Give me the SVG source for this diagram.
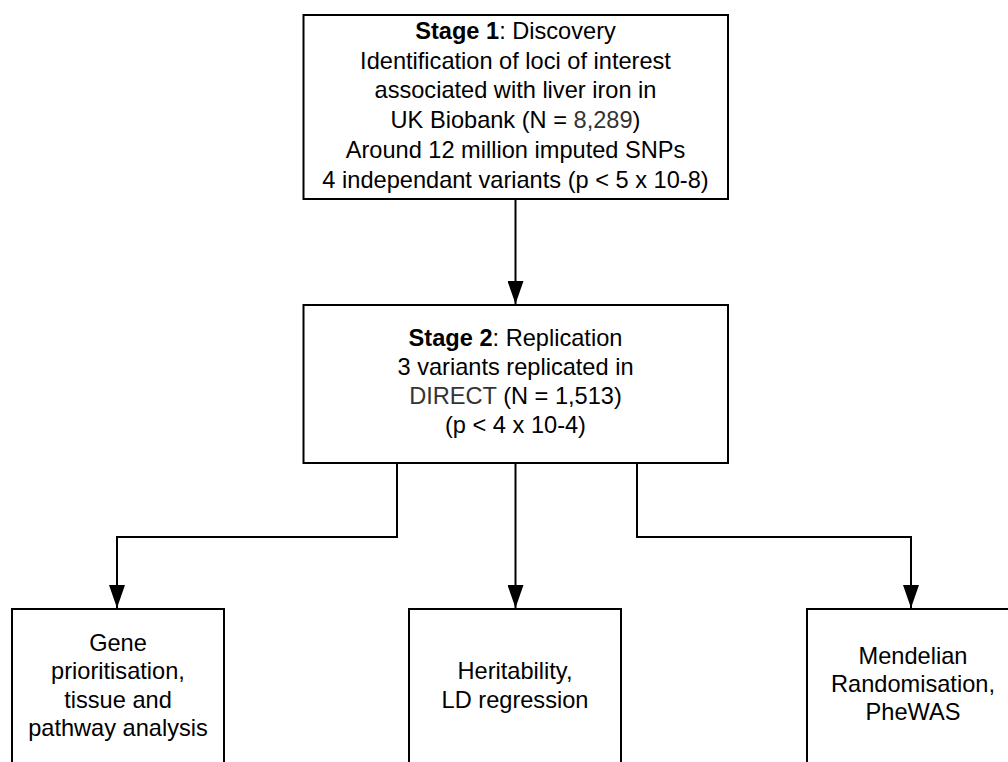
<svg xmlns="http://www.w3.org/2000/svg" width="1008" height="762" viewBox="0 0 1008 762">
<defs>
<style>
.box{fill:#fff;stroke:#000;stroke-width:2}
.t{font-family:"Liberation Sans",Arial,sans-serif;font-size:23.6px;fill:#000;text-anchor:middle}
.g{fill:#333}
.conn{fill:none;stroke:#000;stroke-width:2}
</style>
<marker id="arr" markerUnits="userSpaceOnUse" markerWidth="23" markerHeight="16" refX="23" refY="8" orient="auto" viewBox="0 0 23 16">
<path d="M0,0 L23,8 L0,16 Z" fill="#000"/>
</marker>
</defs>
<rect width="1008" height="762" fill="#fff"/>
<g id="connectors">
<path class="conn" d="M515.5,199 V304" marker-end="url(#arr)"/>
<path class="conn" d="M397,463 V537 H117 V608" marker-end="url(#arr)"/>
<path class="conn" d="M515.5,463 V608" marker-end="url(#arr)"/>
<path class="conn" d="M637,463 V537 H911 V608" marker-end="url(#arr)"/>
</g>
<g id="stage1">
<rect class="box" x="303.5" y="15" width="424.5" height="184"/>
<text class="t" x="515.5" y="39"><tspan font-weight="bold">Stage 1</tspan>: Discovery</text>
<text class="t" x="515.5" y="68.7">Identification of loci of interest</text>
<text class="t" x="515.5" y="98.4">associated with liver iron in</text>
<text class="t" x="515.5" y="128">UK Biobank (N = <tspan class="g">8,289</tspan>)</text>
<text class="t" x="515.5" y="157.8">Around 12 million imputed SNPs</text>
<text class="t" x="515.5" y="187.5">4 independant variants (p &lt; 5 x 10-8)</text>
</g>
<g id="stage2">
<rect class="box" x="303.5" y="305" width="424.5" height="158"/>
<text class="t" x="515.5" y="346"><tspan font-weight="bold">Stage 2</tspan>: Replication</text>
<text class="t" x="515.5" y="375">3 variants replicated in</text>
<text class="t" x="515.5" y="404"><tspan class="g">DIRECT</tspan> (N = 1,513)</text>
<text class="t" x="515.5" y="433.3">(p &lt; 4 x 10-4)</text>
</g>
<g id="gene">
<rect class="box" x="12" y="609" width="212" height="170"/>
<text class="t" x="118" y="651">Gene</text>
<text class="t" x="118" y="679.3">prioritisation,</text>
<text class="t" x="118" y="707.6">tissue and</text>
<text class="t" x="118" y="736">pathway analysis</text>
</g>
<g id="heritability">
<rect class="box" x="409" y="609" width="212" height="170"/>
<text class="t" x="515" y="679">Heritability,</text>
<text class="t" x="515" y="707.5">LD regression</text>
</g>
<g id="mr">
<rect class="box" x="807" y="609" width="212" height="170"/>
<text class="t" x="913" y="664">Mendelian</text>
<text class="t" x="913" y="692">Randomisation,</text>
<text class="t" x="913" y="720">PheWAS</text>
</g>
</svg>
